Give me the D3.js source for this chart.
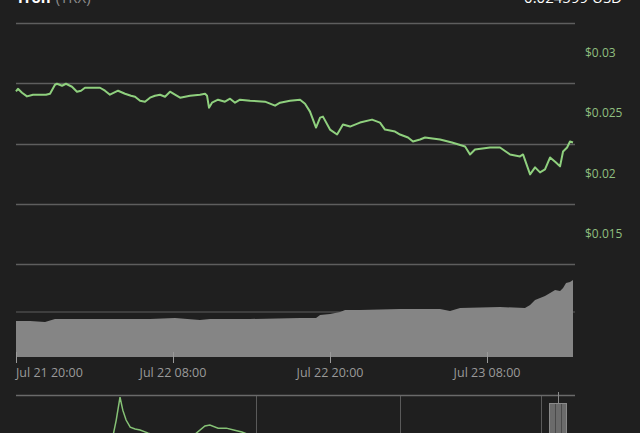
<!DOCTYPE html>
<html><head><meta charset="utf-8">
<script src="https://cdn.jsdelivr.net/npm/d3@7"></script>
<style>
html,body{margin:0;padding:0;background:#1f1f1f;overflow:hidden;}
svg{display:block;font-family:"Open Sans",sans-serif;}
</style></head><body>
<svg id="c" width="640" height="433"></svg>
<script>
// ---- data ----
const coinName = "Tron";
const coinSymbol = "(TRX)";
const currentPrice = "0.024599 USD";
const startTime = new Date(2019, 6, 21, 20, 0);
// hours after Jul 21 20:00
const priceHours = [0,0.15,0.46,0.84,1.30,2.29,2.60,2.98,3.13,3.52,3.82,4.28,4.66,4.97,5.27,5.81,6.42,6.80,7.18,7.80,8.33,8.79,9.10,9.48,9.86,10.24,10.62,11.01,11.39,11.77,12.15,12.54,13.30,14.06,14.45,14.60,14.75,14.98,15.44,15.97,16.36,16.74,17.12,17.89,19.03,19.80,20.18,20.94,21.71,22.09,22.47,22.70,22.93,23.24,23.46,24.00,24.54,24.99,25.53,26.29,27.21,27.82,28.20,28.97,29.35,29.96,30.34,30.88,31.26,32.41,33.32,34.32,34.70,35.08,36.23,36.99,37.76,38.52,38.75,39.29,39.67,40.05,40.43,40.82,41.27,41.58,41.81,42.12,42.34,42.57];
const priceValues = [0.02932,0.029545,0.029215,0.028909,0.029049,0.029049,0.029132,0.029876,0.029958,0.029793,0.029958,0.029711,0.029297,0.02938,0.029628,0.029628,0.029628,0.02938,0.029049,0.02938,0.029132,0.028967,0.028884,0.028554,0.028471,0.028802,0.028967,0.029049,0.028884,0.029297,0.029049,0.028802,0.028967,0.029049,0.029132,0.028967,0.027975,0.028388,0.028636,0.028471,0.028719,0.028388,0.028636,0.028554,0.028471,0.02814,0.028388,0.028554,0.028636,0.028306,0.027645,0.026983,0.026322,0.027149,0.027231,0.026157,0.025744,0.02657,0.026405,0.026735,0.026983,0.026735,0.026157,0.025992,0.025744,0.025496,0.025165,0.025331,0.025496,0.025331,0.025083,0.024752,0.024091,0.024504,0.024669,0.024669,0.024091,0.023926,0.024091,0.022438,0.023017,0.022603,0.022851,0.023843,0.02343,0.023099,0.024339,0.024669,0.025165,0.025083];
const volumeHours = [0,1.07,2.22,2.98,6.42,10.24,12.15,14.06,14.83,17.89,21.71,22.93,23.24,24.0,24.77,25.15,26.29,29.35,32.41,33.17,33.94,36.99,38.90,39.29,39.67,40.43,40.82,41.20,41.58,41.81,42.04,42.34,42.57];
const volumeValues = [480e6,480e6,467e6,507e6,507e6,507e6,520e6,493e6,507e6,507e6,520e6,520e6,560e6,573e6,600e6,627e6,627e6,640e6,640e6,613e6,653e6,667e6,653e6,693e6,760e6,813e6,853e6,893e6,880e6,920e6,987e6,1000e6,1027e6];
// navigator: days after 2017-09-13
const navStart = new Date(2017, 8, 13);
const navDays = [0,53.6,102,117,122,126.6,130,134,139,145,151,161,175,200,218,230,236,246,256,265,275,291,321,370,443,504,565,626,678];
const navValues = [0.019,0.023,0.034,0.057,0.134,0.222,0.172,0.134,0.107,0.100,0.096,0.084,0.069,0.065,0.080,0.111,0.115,0.103,0.103,0.096,0.088,0.069,0.057,0.050,0.031,0.023,0.034,0.042,0.038];
const navGridDays = [292,467,639];
const priceTicks = [0.015,0.02,0.025,0.03,0.035];
const priceTickLabels = ["$0.015","$0.02","$0.025","$0.03",""];
const timeTickHours = [0,12,24,36];
const timeTickLabels = ["Jul 21 20:00","Jul 22 08:00","Jul 22 20:00","Jul 23 08:00"];

// ---- drawing ----
const svg = d3.select("#c");
const H = h => new Date(startTime.getTime() + h*3600e3);
const L = 16, R = 573, RG = 575;
const x = d3.scaleTime().domain([H(0), H(42.57)]).range([L, R]);
const y = d3.scaleLinear().domain([0.015, 0.035]).range([264, 23]);
const yv = d3.scaleLinear().domain([0, 1.24e9]).range([357, 264]);

// title
const t = svg.append("text").attr("x", 16).attr("y", 3).attr("font-size", 15);
t.append("tspan").attr("fill", "#ffffff").attr("font-weight", "bold").text(coinName);
t.append("tspan").attr("fill", "#8a8a8a").attr("dx", 5).text(coinSymbol);
svg.append("text").attr("x", 622).attr("y", 3).attr("text-anchor", "end")
  .attr("font-size", 15).attr("fill", "#ffffff").text(currentPrice);

// grid
svg.append("g").selectAll("line").data(priceTicks).join("line")
  .attr("x1", L).attr("x2", RG)
  .attr("y1", d => Math.round(y(d)) + 0.5).attr("y2", d => Math.round(y(d)) + 0.5)
  .attr("stroke", "#5e5e5e").attr("stroke-width", 1.3);
svg.append("line").attr("x1", L).attr("x2", RG).attr("y1", yv(600e6)).attr("y2", yv(600e6))
  .attr("stroke", "#4a4a4a").attr("stroke-width", 1.3);

// price labels (placed half a step above their gridline)
svg.append("g").selectAll("text").data(priceTicks).join("text")
  .attr("x", 585).attr("y", d => (y(d) + y(d + 0.005)) / 2 + 4)
  .attr("font-size", 12).attr("fill", "#8fbf7f")
  .text((d, i) => priceTickLabels[i]);

// volume area
const vdata = volumeHours.map((h, i) => ({t: H(h), v: volumeValues[i]}));
svg.append("path").datum(vdata)
  .attr("d", d3.area().x(d => x(d.t)).y0(yv(0)).y1(d => yv(d.v)))
  .attr("fill", "#858585");

// price line
const pdata = priceHours.map((h, i) => ({t: H(h), v: priceValues[i]}));
svg.append("path").datum(pdata)
  .attr("d", d3.line().x(d => x(d.t)).y(d => y(d.v)))
  .attr("fill", "none").attr("stroke", "#8fd07e").attr("stroke-width", 2)
  .attr("stroke-linejoin", "round");

// x axis
const xa = svg.append("g");
xa.selectAll("line").data(timeTickHours).join("line")
  .attr("x1", d => Math.round(x(H(d))) + 0.5).attr("x2", d => Math.round(x(H(d))) + 0.5)
  .attr("y1", 352).attr("y2", 363).attr("stroke", "#9a9a9a").attr("stroke-width", 1);
xa.selectAll("text").data(timeTickHours).join("text")
  .attr("x", d => x(H(d))).attr("y", 377)
  .attr("text-anchor", (d, i) => i === 0 ? "start" : "middle")
  .attr("font-size", 12.5).attr("fill", "#9a9a9a")
  .text((d, i) => timeTickLabels[i]);

// navigator
const D = d => new Date(navStart.getTime() + d*86400e3);
const xn = d3.scaleTime().domain([D(0), D(678)]).range([L, R]);
const yn = d3.scaleLinear().domain([0, 0.23]).range([455, 395]);
const nav = svg.append("g");
nav.selectAll("line.g").data(navGridDays).join("line").attr("class", "g")
  .attr("x1", d => Math.round(xn(D(d))) + 0.5).attr("x2", d => Math.round(xn(D(d))) + 0.5)
  .attr("y1", 395).attr("y2", 433).attr("stroke", "#5a5a5a");
const ndata = navDays.map((d, i) => ({t: D(d), v: navValues[i]}));
nav.append("path").datum(ndata)
  .attr("d", d3.line().x(d => xn(d.t)).y(d => yn(d.v)))
  .attr("fill", "none").attr("stroke", "#86c276").attr("stroke-width", 1.5);
nav.append("line").attr("x1", L).attr("x2", RG).attr("y1", 395.5).attr("y2", 395.5)
  .attr("stroke", "#6a6a6a").attr("stroke-width", 1.3);
// selection handle
nav.append("rect").attr("x", 549.5).attr("y", 403.5).attr("width", 17).attr("height", 40)
  .attr("fill", "#6b6b6b").attr("stroke", "#8a8a8a");
[555.5, 561.5].forEach(v => nav.append("line").attr("x1", v).attr("x2", v)
  .attr("y1", 404).attr("y2", 433).attr("stroke", "#4a4a4a"));
nav.append("line").attr("x1", 558.5).attr("x2", 558.5).attr("y1", 392).attr("y2", 404)
  .attr("stroke", "#8a8a8a");
</script></body></html>
